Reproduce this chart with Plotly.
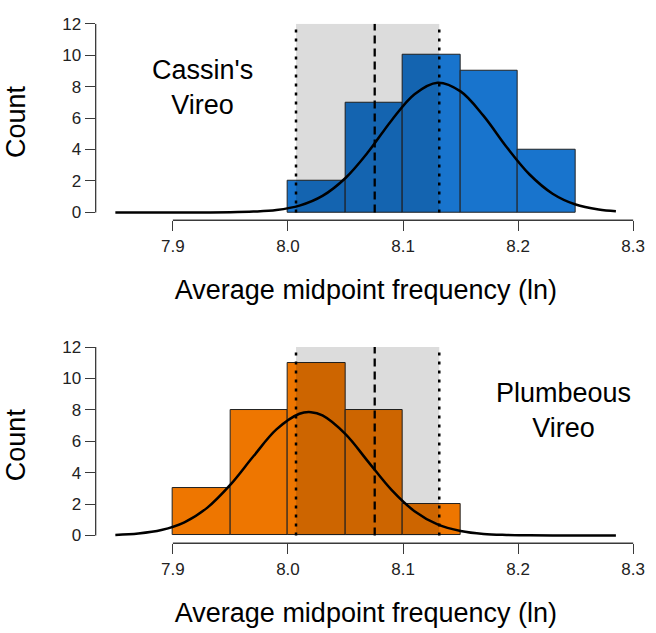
import plotly.graph_objects as go
from plotly.subplots import make_subplots

# ---- data ----
bin_left_cassin = [8.00, 8.05, 8.10, 8.15, 8.20]
count_cassin = [2, 7, 10, 9, 4]
bin_left_plumb = [7.90, 7.95, 8.00, 8.05, 8.10]
count_plumb = [3, 8, 11, 8, 2]
bin_width = 0.05

curve_x_cassin = [7.85, 7.87, 7.89, 7.91, 7.93, 7.95, 7.97, 7.99, 8.01, 8.03, 8.05, 8.07,
                  8.09, 8.11, 8.13, 8.15, 8.17, 8.19, 8.21, 8.23, 8.25, 8.27, 8.285]
curve_y_cassin = [0.0, 0.0, 0.0, 0.0, 0.0, 0.01, 0.05, 0.15, 0.43, 1.05, 2.19, 3.87,
                  5.85, 7.52, 8.25, 7.70, 6.14, 4.16, 2.41, 1.19, 0.50, 0.18, 0.07]
curve_x_plumb = [7.85, 7.87, 7.89, 7.91, 7.93, 7.95, 7.97, 7.99, 8.01, 8.02, 8.03, 8.05,
                 8.07, 8.09, 8.11, 8.13, 8.15, 8.17, 8.19, 8.21, 8.23, 8.25, 8.27, 8.285]
curve_y_plumb = [0.03, 0.12, 0.34, 0.83, 1.77, 3.23, 5.04, 6.75, 7.75, 7.85, 7.64, 6.45,
                 4.67, 2.90, 1.54, 0.70, 0.28, 0.09, 0.03, 0.01, 0.0, 0.0, 0.0, 0.0]

interval_low = 8.007
interval_high = 8.1315
interval_mid = 8.0754

x_ticks = [7.9, 8.0, 8.1, 8.2, 8.3]
x_tick_labels = ["7.9", "8.0", "8.1", "8.2", "8.3"]
y_ticks = [0, 2, 4, 6, 8, 10, 12]

species_labels = ["Cassin's<br>Vireo", "Plumbeous<br>Vireo"]
xlabel = "Average midpoint frequency (ln)"
ylabel = "Count"

blue = "#1874CD"
orange = "#EE7600"

W, H = 656, 633
FONT = "Liberation Sans, Arial, sans-serif"
AXC = "#3a3a3a"

fig = make_subplots(rows=2, cols=1)

panels = [
    (bin_left_cassin, count_cassin, curve_x_cassin, curve_y_cassin, blue),
    (bin_left_plumb, count_plumb, curve_x_plumb, curve_y_plumb, orange),
]
for i, (bl, cnt, cx, cy, col) in enumerate(panels, start=1):
    fig.add_trace(go.Bar(
        x=[b + bin_width / 2 for b in bl], y=cnt, width=bin_width,
        marker=dict(color=col, line=dict(color="#222222", width=1)),
        showlegend=False, hoverinfo="x+y"), row=i, col=1)
    fig.add_trace(go.Scatter(
        x=cx, y=cy, mode="lines", line=dict(color="black", width=2.5, shape="spline"),
        showlegend=False), row=i, col=1)

xdom = [97 / W, 645 / W]
ydoms = [[1 - 215 / H, 1 - 15 / H], [1 - 543.7 / H, 1 - 344 / H]]

for i in (1, 2):
    xa = "xaxis" if i == 1 else "xaxis2"
    ya = "yaxis" if i == 1 else "yaxis2"
    fig.layout[xa].update(
        domain=xdom, range=[7.8329, 8.3026], tickvals=x_ticks, ticktext=x_tick_labels,
        ticks="outside", ticklen=10, tickwidth=1.3, tickcolor=AXC, showline=False,
        showgrid=False, zeroline=False, tickfont=dict(size=17, color="#222", family=FONT),
        title=dict(text=xlabel, font=dict(size=27, color="black", family=FONT), standoff=25),
        fixedrange=True)
    fig.layout[ya].update(
        domain=ydoms[i - 1], range=[-0.5, 12], tickvals=y_ticks,
        ticks="outside", ticklen=10, tickwidth=1.3, tickcolor=AXC, showline=False,
        showgrid=False, zeroline=False, tickfont=dict(size=17, color="#222", family=FONT),
        title=dict(text=ylabel, font=dict(size=27, color="black", family=FONT), standoff=28),
        fixedrange=True)

    sx = "x" if i == 1 else "x2"
    sy = "y" if i == 1 else "y2"
    # shaded interval (darkening overlay)
    fig.add_shape(type="rect", xref=sx, yref=sy, x0=interval_low, x1=interval_high,
                  y0=0, y1=12, fillcolor="black", opacity=0.137, line=dict(width=0))
    for xv, dash, w in [(interval_low, "3px,6px", 2.5), (interval_high, "3px,6px", 2.5),
                        (interval_mid, "8px,5px", 2.3)]:
        fig.add_shape(type="line", xref=sx, yref=sy, x0=xv, x1=xv, y0=0, y1=12,
                      line=dict(color="black", width=w, dash=dash))
    # axis lines (R style, spanning only the tick range)
    fig.add_shape(type="line", xref=sx + " domain", yref=sy, x0=0, x1=0, y0=0, y1=12,
                  line=dict(color=AXC, width=1.3))
    fig.add_shape(type="line", xref=sx, yref=sy + " domain", x0=x_ticks[0], x1=x_ticks[-1],
                  y0=0, y1=0, line=dict(color=AXC, width=1.3))

fig.add_annotation(x=7.9254, y=7.95, xref="x", yref="y", text=species_labels[0],
                   showarrow=False, font=dict(size=27, color="black", family=FONT),
                   xanchor="center", yanchor="middle", align="center")
fig.add_annotation(x=8.2396, y=7.98, xref="x2", yref="y2", text=species_labels[1],
                   showarrow=False, font=dict(size=27, color="black", family=FONT),
                   xanchor="center", yanchor="middle", align="center")

fig.update_layout(
    width=W, height=H, margin=dict(l=0, r=0, t=0, b=0),
    paper_bgcolor="white", plot_bgcolor="white",
    font=dict(family=FONT), bargap=0, showlegend=False,
)

fig.write_html("out.html", config={"displayModeBar": False},
               post_script="document.body.style.margin='0';document.body.style.overflow='hidden';")
